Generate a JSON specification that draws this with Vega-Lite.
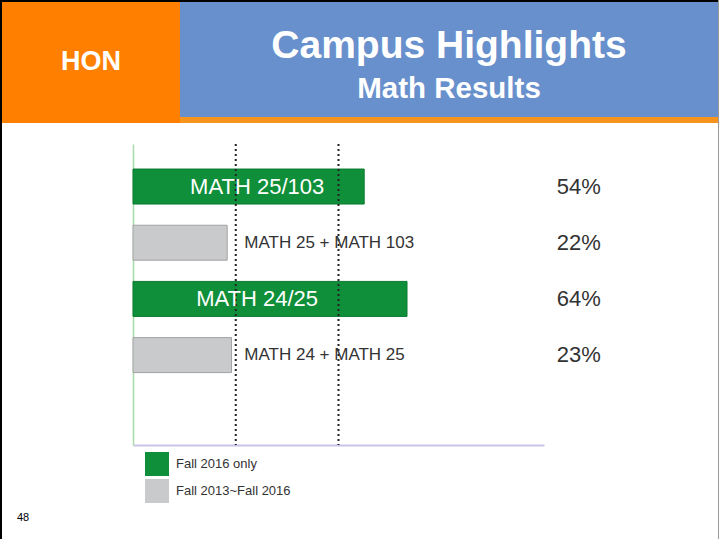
{
  "$schema": "https://vega.github.io/schema/vega-lite/v6.json",
  "padding": 0,
  "background": "white",
  "spacing": 0,
  "config": {"view": {"stroke": null}, "font": "Liberation Sans"},
  "hconcat": [
    {
      "width": 2, "height": 539,
      "view": {"fill": "#000000", "stroke": null},
      "data": {"values": []},
      "mark": "rect",
      "encoding": {}
    },
    {
      "spacing": 0,
      "vconcat": [
        {
          "width": 716, "height": 2,
          "view": {"fill": "#000000", "stroke": null},
          "data": {"values": []},
          "mark": "rect",
          "encoding": {}
        },
        {
          "spacing": 20,
          "vconcat": [
            {
              "spacing": 0,
              "hconcat": [
                {
                  "width": 178, "height": 121,
                  "view": {"fill": "#ff7f00", "stroke": null},
                  "data": {"values": [{"t": "HON"}]},
                  "mark": {"type": "text", "color": "white", "font": "Liberation Sans", "fontWeight": "bold", "fontSize": 27, "baseline": "alphabetic", "align": "center", "dy": 7},
                  "encoding": {"text": {"field": "t", "type": "nominal"}}
                },
                {
                  "spacing": 0,
                  "vconcat": [
                    {
                      "width": 538, "height": 115,
                      "view": {"fill": "#6890cc", "stroke": null},
                      "layer": [
                        {
                          "data": {"values": [{"t": "Campus Highlights"}]},
                          "mark": {"type": "text", "color": "white", "font": "Liberation Sans", "fontWeight": "bold", "fontSize": 39, "baseline": "alphabetic", "align": "center", "dy": -2},
                          "encoding": {"text": {"field": "t", "type": "nominal"}}
                        },
                        {
                          "data": {"values": [{"t": "Math Results"}]},
                          "mark": {"type": "text", "color": "white", "font": "Liberation Sans", "fontWeight": "bold", "fontSize": 29.5, "baseline": "alphabetic", "align": "center", "dy": 38},
                          "encoding": {"text": {"field": "t", "type": "nominal"}}
                        }
                      ]
                    },
                    {
                      "width": 538, "height": 6,
                      "view": {"fill": "#f7941d", "stroke": null},
                      "data": {"values": []},
                      "mark": "rect",
                      "encoding": {}
                    }
                  ]
                }
              ]
            },
            {
              "spacing": 0,
              "hconcat": [
                {
                  "width": 130, "height": 301,
                  "title": {"text": "48", "orient": "bottom", "anchor": "start", "fontSize": 11, "fontWeight": "normal", "font": "Liberation Sans", "color": "#000", "offset": 67, "dx": 15},
                  "data": {"values": []},
                  "mark": "rect",
                  "encoding": {}
                },
                {
                  "width": 411,
                  "height": 301,
                  "data": {"values": [
                    {"course": "MATH 25/103", "series": "Fall 2016 only", "pct": 0.54},
                    {"course": "MATH 25 + MATH 103", "series": "Fall 2013~Fall 2016", "pct": 0.22},
                    {"course": "MATH 24/25", "series": "Fall 2016 only", "pct": 0.64},
                    {"course": "MATH 24 + MATH 25", "series": "Fall 2013~Fall 2016", "pct": 0.23}
                  ]},
                  "encoding": {
                    "y": {"field": "course", "type": "nominal", "sort": null,
                          "scale": {"paddingInner": 0.377, "paddingOuter": 0.867, "align": 0.257},
                          "axis": {"title": null, "labels": false, "ticks": false, "grid": false, "domainColor": "#a6dba6", "domainWidth": 1.5}}
                  },
                  "layer": [
                    {
                      "mark": {"type": "bar", "strokeWidth": 1},
                      "encoding": {
                        "x": {"field": "pct", "type": "quantitative", "scale": {"domain": [0, 0.96], "nice": false},
                              "axis": {"title": null, "labels": false, "ticks": false, "grid": false, "domainColor": "#c9c3ea", "domainWidth": 2}},
                        "color": {"field": "series", "type": "nominal", "sort": null,
                                  "scale": {"domain": ["Fall 2016 only", "Fall 2013~Fall 2016"], "range": ["#0f8f3a", "#c9cacc"]},
                                  "legend": {"title": null, "orient": "none", "legendX": 145, "legendY": 452, "symbolType": "square", "symbolSize": 576, "labelFontSize": 13, "labelColor": "#333", "labelFont": "Liberation Sans", "rowPadding": 3, "labelOffset": 7, "symbolStrokeWidth": 0}},
                        "stroke": {"field": "series", "type": "nominal",
                                   "scale": {"domain": ["Fall 2016 only", "Fall 2013~Fall 2016"], "range": ["#0b7a30", "#a3a3a3"]},
                                   "legend": null}
                      }
                    },
                    {
                      "data": {"values": [{"g": 0.24}, {"g": 0.48}]},
                      "mark": {"type": "rule", "strokeDash": [2, 3], "strokeWidth": 2, "color": "#222"},
                      "encoding": {"x": {"field": "g", "type": "quantitative"}, "y": null}
                    },
                    {
                      "transform": [{"filter": "datum.series === 'Fall 2016 only'"}],
                      "mark": {"type": "text", "color": "white", "fontSize": 22, "align": "center", "font": "Liberation Sans"},
                      "encoding": {"x": {"datum": 0.29, "type": "quantitative"}, "text": {"field": "course", "type": "nominal"}}
                    },
                    {
                      "transform": [{"filter": "datum.series !== 'Fall 2016 only'"}],
                      "mark": {"type": "text", "color": "#333", "fontSize": 17, "align": "left", "font": "Liberation Sans"},
                      "encoding": {"x": {"datum": 0.26, "type": "quantitative"}, "text": {"field": "course", "type": "nominal"}}
                    },
                    {
                      "mark": {"type": "text", "color": "#333", "fontSize": 22, "align": "left", "font": "Liberation Sans"},
                      "encoding": {"x": {"datum": 0.99, "type": "quantitative"}, "text": {"field": "pct", "type": "quantitative", "format": ".0%"}}
                    }
                  ]
                }
              ]
            }
          ]
        }
      ]
    },
    {
      "width": 1, "height": 539,
      "view": {"fill": "#999999", "stroke": null},
      "data": {"values": []},
      "mark": "rect",
      "encoding": {}
    }
  ]
}
